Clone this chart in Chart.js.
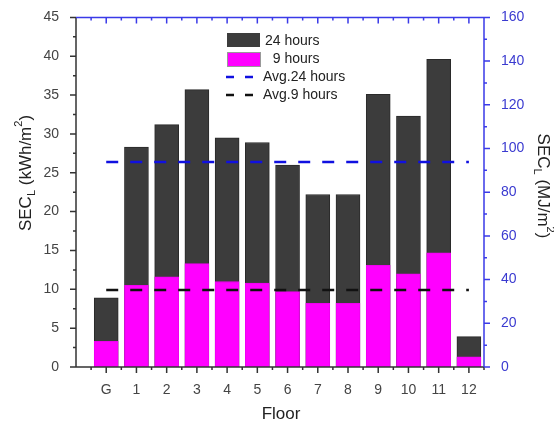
<!DOCTYPE html>
<html>
<head>
<meta charset="utf-8">
<script src="https://cdn.jsdelivr.net/npm/chart.js@4.4.0/dist/chart.umd.min.js"></script>
<style>
  html, body { margin: 0; padding: 0; background: #fff; }
  #wrap { width: 554px; height: 426px; }
</style>
</head>
<body>
<div id="wrap"><canvas id="graficSEC" width="554" height="426"></canvas></div>
<script>
// data
const floors = ['G', '1', '2', '3', '4', '5', '6', '7', '8', '9', '10', '11', '12']
const hours24 = [8.9, 28.3, 31.2, 35.7, 29.5, 28.9, 26.0, 22.2, 22.2, 35.1, 32.3, 39.6, 3.9]
const hours9 = [3.3, 10.5, 11.6, 13.3, 11.0, 10.8, 9.7, 8.2, 8.2, 13.1, 12.0, 14.7, 1.3]
const avg24 = 26.4
const avg9 = 9.9
const leftTicks = [0, 45, 5]
const rightTicks = [0, 160, 20]

const FONT = 'Arial, "Liberation Sans", sans-serif'
const BLUE = '#3a3ae8'
const AXIS = '#333'

let pts = arr => arr.map((v, i) => ({ x: i, y: v }))
let avgLine = v => [{ x: 0, y: v }, { x: floors.length - 1, y: v }]

// axis frame, minor ticks, titles and legend drawn by hand
const frame = {
  id: 'frame',
  afterDraw(chart) {
    const ctx = chart.ctx
    const a = chart.chartArea
    const x = chart.scales.x, y = chart.scales.y, y1 = chart.scales.y1
    ctx.save()
    ctx.lineWidth = 1.5

    // left + bottom (dark)
    ctx.strokeStyle = AXIS
    ctx.beginPath()
    ctx.moveTo(a.left, a.top); ctx.lineTo(a.left, a.bottom); ctx.lineTo(a.right, a.bottom)
    for (let v = 0; v <= 45; v += 2.5) {
      const py = y.getPixelForValue(v)
      const len = v % 5 === 0 ? 6 : 3
      ctx.moveTo(a.left, py); ctx.lineTo(a.left - len, py)
    }
    for (let v = -0.5; v <= 12.5; v += 0.5) {
      const px = x.getPixelForValue(v)
      const len = Number.isInteger(v) ? 6 : 3
      ctx.moveTo(px, a.bottom); ctx.lineTo(px, a.bottom + len)
    }
    ctx.stroke()

    // top + right (blue)
    ctx.strokeStyle = BLUE
    ctx.beginPath()
    ctx.moveTo(a.left, a.top); ctx.lineTo(a.right, a.top); ctx.lineTo(a.right, a.bottom)
    for (let v = -0.5; v <= 12; v += 0.5) {
      const px = x.getPixelForValue(v)
      const len = Number.isInteger(v) ? 6 : 3
      ctx.moveTo(px, a.top); ctx.lineTo(px, a.top + len)
    }
    for (let v = 0; v <= 160; v += 10) {
      const py = y1.getPixelForValue(v)
      const len = v % 20 === 0 ? 6 : 3
      ctx.moveTo(a.right, py); ctx.lineTo(a.right + len, py)
    }
    ctx.stroke()

    // axis titles
    const title = (cx, cy, rot, main, sub, rest, sup, end) => {
      ctx.save()
      ctx.translate(cx, cy)
      ctx.rotate(rot)
      ctx.fillStyle = '#222'
      ctx.textBaseline = 'middle'
      const big = '17px ' + FONT, small = '11px ' + FONT
      ctx.font = big
      let w = ctx.measureText(main).width + ctx.measureText(rest).width + ctx.measureText(end).width
      ctx.font = small
      w += ctx.measureText(sub).width + ctx.measureText(sup).width
      let px = -w / 2
      ctx.font = big; ctx.fillText(main, px, 0); px += ctx.measureText(main).width
      ctx.font = small; ctx.fillText(sub, px, 6); px += ctx.measureText(sub).width
      ctx.font = big; ctx.fillText(rest, px, 0); px += ctx.measureText(rest).width
      ctx.font = small; ctx.fillText(sup, px, -7); px += ctx.measureText(sup).width
      ctx.font = big; ctx.fillText(end, px, 0)
      ctx.restore()
    }
    title(26, 173, -Math.PI / 2, 'SEC', 'L', ' (kWh/m', '2', ')')
    title(543, 186, Math.PI / 2, 'SEC', 'L', ' (MJ/m', '2', ')')

    ctx.fillStyle = '#222'
    ctx.font = '17px ' + FONT
    ctx.textAlign = 'center'
    ctx.textBaseline = 'middle'
    ctx.fillText('Floor', 281, 414)

    // legend inside plot
    ctx.textAlign = 'left'
    ctx.font = '14px ' + FONT
    ctx.lineWidth = 1
    ctx.fillStyle = '#3c3c3c'; ctx.fillRect(227, 33, 33, 14)
    ctx.fillStyle = '#ff00ff'; ctx.fillRect(227, 52, 33, 14)
    ctx.strokeStyle = '#999'; ctx.strokeRect(227.5, 52.5, 33, 14)
    ctx.fillStyle = '#222'
    ctx.fillText('24 hours', 265, 41)
    ctx.fillText('  9 hours', 265, 59)
    ctx.fillText('Avg.24 hours', 263, 77)
    ctx.fillText('Avg.9 hours', 263, 95)
    ctx.lineWidth = 2.5
    ctx.setLineDash([8, 11])
    ctx.strokeStyle = '#1010e0'
    ctx.beginPath(); ctx.moveTo(226, 77); ctx.lineTo(262, 77); ctx.stroke()
    ctx.strokeStyle = '#111'
    ctx.beginPath(); ctx.moveTo(226, 95); ctx.lineTo(262, 95); ctx.stroke()
    ctx.restore()
  }
}

new Chart(document.getElementById('graficSEC'), {
  data: {
    datasets: [
      {
        type: 'line', label: 'Avg.24 hours', data: avgLine(avg24), yAxisID: 'y',
        borderColor: '#1010e0', borderWidth: 2.5, borderDash: [12, 12], pointRadius: 0, order: 0
      },
      {
        type: 'line', label: 'Avg.9 hours', data: avgLine(avg9), yAxisID: 'y',
        borderColor: '#111', borderWidth: 2.5, borderDash: [12, 12], pointRadius: 0, order: 0
      },
      {
        type: 'bar', label: '9 hours', data: pts(hours9), yAxisID: 'y',
        backgroundColor: '#ff00ff', borderColor: '#f000f0', borderWidth: 1,
        barThickness: 24, grouped: false, order: 1
      },
      {
        type: 'bar', label: '24 hours', data: pts(hours24), yAxisID: 'y',
        backgroundColor: '#3c3c3c', borderColor: '#2a2a2a', borderWidth: 1,
        barThickness: 24, grouped: false, order: 2
      }
    ]
  },
  options: {
    responsive: false,
    animation: false,
    layout: { padding: { top: 16, left: 0, right: 0, bottom: 0 } },
    plugins: { legend: { display: false }, tooltip: { enabled: false } },
    scales: {
      x: {
        type: 'linear', min: -1, max: 12.5, offset: false,
        grid: { display: false, offset: false }, border: { display: false },
        afterFit: s => { s.height = 59 },
        afterBuildTicks: s => { s.ticks = floors.map((f, i) => ({ value: i })) },
        ticks: {
          autoSkip: false, maxRotation: 0, padding: 7,
          color: '#444', font: { family: FONT, size: 14 },
          callback: v => floors[v] ?? ''
        }
      },
      y: {
        position: 'left', min: leftTicks[0], max: leftTicks[1],
        grid: { display: false }, border: { display: false },
        afterFit: s => { s.width = 76 },
        ticks: { stepSize: leftTicks[2], padding: 9, color: '#444', font: { family: FONT, size: 14 } }
      },
      y1: {
        position: 'right', min: rightTicks[0], max: rightTicks[1],
        grid: { display: false }, border: { display: false },
        afterFit: s => { s.width = 70 },
        ticks: { stepSize: rightTicks[2], padding: 9, color: '#3a3ad0', font: { family: FONT, size: 14 } }
      }
    }
  },
  plugins: [frame]
})
</script>
</body>
</html>
